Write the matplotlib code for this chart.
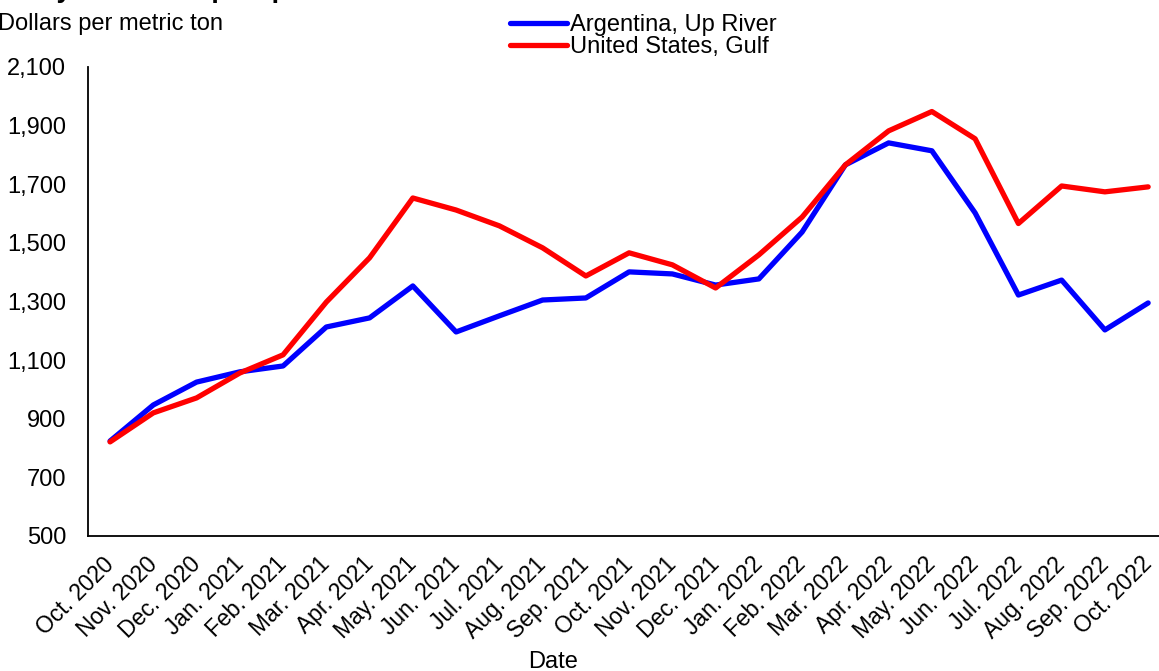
import matplotlib
matplotlib.use("Agg")
from matplotlib import pyplot as plt
from matplotlib.transforms import ScaledTranslation

plt.rcParams['font.family'] = ['Liberation Sans', 'DejaVu Sans']

months = ['Oct. 2020', 'Nov. 2020', 'Dec. 2020', 'Jan. 2021', 'Feb. 2021', 'Mar. 2021',
          'Apr. 2021', 'May. 2021', 'Jun. 2021', 'Jul. 2021', 'Aug. 2021', 'Sep. 2021',
          'Oct. 2021', 'Nov. 2021', 'Dec. 2021', 'Jan. 2022', 'Feb. 2022', 'Mar. 2022',
          'Apr. 2022', 'May. 2022', 'Jun. 2022', 'Jul. 2022', 'Aug. 2022', 'Sep. 2022',
          'Oct. 2022']

argentina = [824, 947, 1025, 1060, 1080, 1213, 1244, 1353, 1196, 1251, 1305, 1312,
             1401, 1394, 1356, 1377, 1537, 1766, 1841, 1814, 1602, 1322, 1373, 1203, 1295]

us_gulf = [821, 920, 971, 1056, 1118, 1298, 1449, 1653, 1612, 1558, 1483, 1387,
           1466, 1425, 1346, 1459, 1588, 1766, 1882, 1948, 1855, 1566, 1694, 1674, 1691]

yticks = [500, 700, 900, 1100, 1300, 1500, 1700, 1900, 2100]

fig = plt.figure(figsize=(11.59, 6.71), dpi=100)
ax = fig.add_axes([0.0763, 0.2012, 0.933, 0.699])

x = range(len(months))
ax.plot(x, argentina, color='#0000ff', lw=3.8, solid_capstyle='round', label='Argentina, Up River')
ax.plot(x, us_gulf, color='#ff0000', lw=3.8, solid_capstyle='round', label='United States, Gulf')

ax.set_xlim(-0.5, len(months) - 0.5)
ax.set_ylim(500, 2100)
ax.set_yticks(yticks)
ax.set_yticklabels(['{:,}'.format(v) for v in yticks], fontsize=17)
ax.set_xticks(list(x))
ax.set_xticklabels(months, fontsize=16.5, rotation=45, ha='right', rotation_mode='anchor')
ax.tick_params(axis='both', length=0)
ax.tick_params(axis='y', pad=16)
ax.tick_params(axis='x', pad=12)

# nudge the rotated date labels a little to the left
shift = ScaledTranslation(-8 / 100, 0, fig.dpi_scale_trans)
for lbl in ax.get_xticklabels():
    lbl.set_transform(lbl.get_transform() + shift)

for s in ['top', 'right']:
    ax.spines[s].set_visible(False)
for s in ['left', 'bottom']:
    ax.spines[s].set_linewidth(1.3)
    ax.spines[s].set_color('black')

fig.text(22 / 1159, 1.0045, 'Soybean oil export prices', fontsize=19.5, fontweight='bold',
         ha='left', va='baseline')
fig.text(-0.002, 1 - 24 / 671, 'Dollars per metric ton', fontsize=17, ha='left', va='center')
fig.text(553 / 1159, 1 - 662 / 671, 'Date', fontsize=17, ha='center', va='center')

fig.legend(loc='center left', bbox_to_anchor=(510 / 1159, 1 - 36 / 671), frameon=False,
           fontsize=17, handlelength=2.4, handletextpad=0.15, labelspacing=0.0,
           borderpad=0, borderaxespad=0)

fig.savefig('out.png', dpi=100)
